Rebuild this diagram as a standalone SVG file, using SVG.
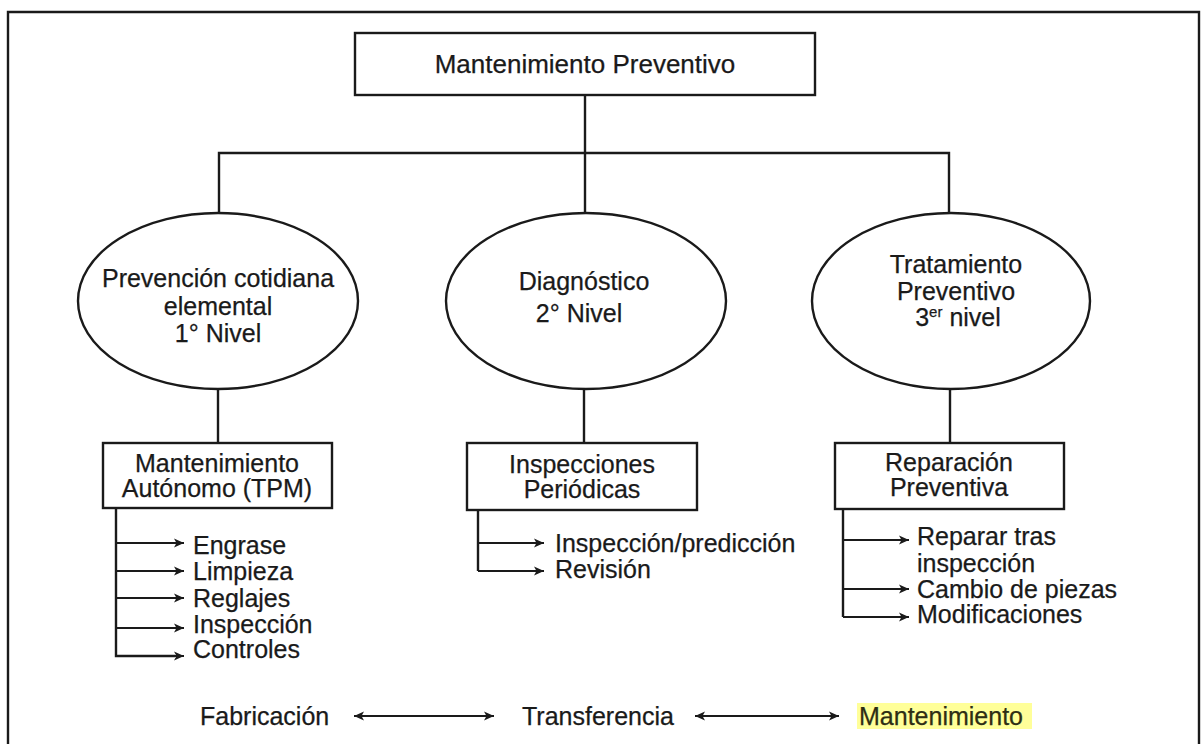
<svg xmlns="http://www.w3.org/2000/svg" width="1202" height="744" viewBox="0 0 1202 744">
<style>
  text { font-family: "Liberation Sans", Arial, sans-serif; font-size: 25px; fill: #1a1a1a; stroke: #1a1a1a; stroke-width: 0.25; }
  .c { text-anchor: middle; }
  .shape { fill: #fff; stroke: #1a1a1a; stroke-width: 2.4; }
  .ln { fill: none; stroke: #1a1a1a; stroke-width: 2.4; }
  .ar { fill: none; stroke: #1a1a1a; stroke-width: 2.2; marker-end: url(#ah); }
  .dar { fill: none; stroke: #1a1a1a; stroke-width: 2.2; marker-end: url(#ah); marker-start: url(#ahs); }
</style>
<defs>
  <marker id="ah" viewBox="0 0 12 12" refX="11" refY="6" markerWidth="12" markerHeight="12" markerUnits="userSpaceOnUse" orient="auto">
    <path d="M1,1.5 L11,6 L1,10.5 L3.5,6 Z" fill="#1a1a1a"/>
  </marker>
  <marker id="ahs" viewBox="0 0 12 12" refX="11" refY="6" markerWidth="12" markerHeight="12" markerUnits="userSpaceOnUse" orient="auto-start-reverse">
    <path d="M1,1.5 L11,6 L1,10.5 L3.5,6 Z" fill="#1a1a1a"/>
  </marker>
</defs>
<rect width="1202" height="744" fill="#fff"/>
<path class="ln" d="M8,760 V12 H1199 V760" stroke-width="3"/>

<g id="connectors">
  <path class="ln" d="M585,95 V212"/>
  <path class="ln" d="M219,212 V153 H949 V212"/>
  <path class="ln" d="M218,389 V443"/>
  <path class="ln" d="M584,389 V443"/>
  <path class="ln" d="M950,389 V443"/>
  <path class="ln" d="M116,508 V656 H175"/>
  <path class="ar" d="M116,543 H184"/>
  <path class="ar" d="M116,571 H184"/>
  <path class="ar" d="M116,598 H184"/>
  <path class="ar" d="M116,628 H184"/>
  <path class="ar" d="M116,656 H184"/>
  <path class="ln" d="M478,510 V571"/>
  <path class="ar" d="M478,543 H544"/>
  <path class="ar" d="M478,571 H544"/>
  <path class="ln" d="M843,509 V617"/>
  <path class="ar" d="M843,540 H909"/>
  <path class="ar" d="M843,589 H909"/>
  <path class="ar" d="M843,617 H909"/>
  <path class="dar" d="M354,716 H494"/>
  <path class="dar" d="M695,716 H839"/>
</g>

<g id="top">
  <rect class="shape" x="355" y="33" width="460" height="62"/>
  <text class="c" x="585" y="73" style="font-size:26px">Mantenimiento Preventivo</text>
</g>

<g id="nivel1">
  <ellipse class="shape" cx="218" cy="301" rx="140" ry="88"/>
  <text class="c" x="218" y="287">Prevención cotidiana</text>
  <text class="c" x="218" y="315">elemental</text>
  <text class="c" x="218" y="342">1° Nivel</text>
</g>

<g id="nivel2">
  <ellipse class="shape" cx="586" cy="301" rx="140" ry="88"/>
  <text class="c" x="584" y="290">Diagnóstico</text>
  <text class="c" x="579" y="322">2° Nivel</text>
</g>

<g id="nivel3">
  <ellipse class="shape" cx="951" cy="301" rx="139" ry="88"/>
  <text class="c" x="956" y="273">Tratamiento</text>
  <text class="c" x="956" y="300">Preventivo</text>
  <text class="c" x="958" y="326">3<tspan dy="-9" style="font-size:15px">er</tspan><tspan dy="9"> nivel</tspan></text>
</g>

<g id="autonomo">
  <rect class="shape" x="103" y="443" width="229" height="65"/>
  <text class="c" x="217" y="472">Mantenimiento</text>
  <text class="c" x="217" y="497">Autónomo (TPM)</text>
  <text x="193" y="554">Engrase</text>
  <text x="193" y="580">Limpieza</text>
  <text x="193" y="607">Reglajes</text>
  <text x="193" y="633">Inspección</text>
  <text x="193" y="658">Controles</text>
</g>

<g id="inspecciones">
  <rect class="shape" x="467" y="443" width="230" height="67"/>
  <text class="c" x="582" y="473">Inspecciones</text>
  <text class="c" x="582" y="498">Periódicas</text>
  <text x="555" y="552">Inspección/predicción</text>
  <text x="555" y="578">Revisión</text>
</g>

<g id="reparacion">
  <rect class="shape" x="835" y="443" width="229" height="66"/>
  <text class="c" x="949" y="471">Reparación</text>
  <text class="c" x="949" y="496">Preventiva</text>
  <text x="917" y="545">Reparar tras</text>
  <text x="917" y="572">inspección</text>
  <text x="917" y="598">Cambio de piezas</text>
  <text x="917" y="623">Modificaciones</text>
</g>

<g id="bottom">
  <text x="200" y="725">Fabricación</text>
  <text x="522" y="725">Transferencia</text>
  <rect x="857" y="703" width="175" height="26" fill="#ffff99"/>
  <text x="859" y="725" style="fill:#2e2e14;stroke:#2e2e14">Mantenimiento</text>
</g>
</svg>
